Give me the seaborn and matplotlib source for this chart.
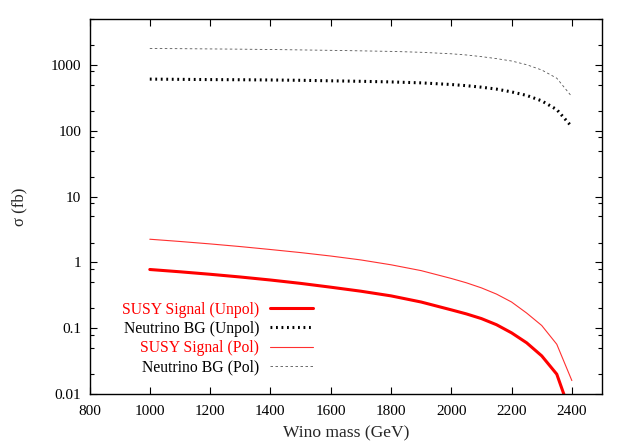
import numpy as np
import pandas as pd
import matplotlib
matplotlib.use("Agg")
import matplotlib.pyplot as plt
import seaborn as sns
from matplotlib.ticker import LogLocator, NullFormatter

sns.set_theme(style="white")
plt.rcParams['font.family'] = ['Liberation Serif', 'DejaVu Serif']

# ---- data ----
mass = [1000, 1100, 1200, 1300, 1400, 1500, 1600, 1700, 1800, 1900, 2000,
        2050, 2100, 2150, 2200, 2250, 2300, 2350, 2400]
susy_unpol = [0.78, 0.72, 0.66, 0.60, 0.54, 0.48, 0.42, 0.365, 0.31, 0.25, 0.19,
              0.165, 0.14, 0.113, 0.085, 0.060, 0.038, 0.020, 0.0045]
nu_unpol = [610, 605, 600, 597, 592, 585, 575, 565, 553, 535, 505,
            485, 460, 430, 390, 345, 285, 210, 115]
susy_pol = [2.25, 2.08, 1.91, 1.74, 1.57, 1.41, 1.25, 1.09, 0.92, 0.75, 0.57,
            0.49, 0.41, 0.33, 0.25, 0.17, 0.11, 0.057, 0.016]
nu_pol = [1780, 1770, 1755, 1740, 1720, 1695, 1670, 1640, 1610, 1560, 1480,
          1420, 1340, 1250, 1150, 1010, 840, 630, 330]

labels = ["SUSY Signal (Unpol)", "Neutrino BG (Unpol)",
          "SUSY Signal (Pol)", "Neutrino BG (Pol)"]
series = [susy_unpol, nu_unpol, susy_pol, nu_pol]
colors = ["#ff0000", "#000000", "#ff3030", "#555555"]
widths = [2.2, 2.2, 0.8, 0.6]
dashes = [None, (0.6, 1.2), None, (3, 3)]

xticks = [800, 1000, 1200, 1400, 1600, 1800, 2000, 2200, 2400]
yticks = [0.01, 0.1, 1, 10, 100, 1000]
yticklabels = ["0.01", "0.1", "1", "10", "100", "1000"]

fig = plt.figure(figsize=(6.29, 4.41), dpi=100)
ax = fig.add_axes([89.5 / 629, 1 - 394 / 441, (602 - 89.5) / 629, (394 - 19) / 441])

for lab, ys, c, w, d in zip(labels, series, colors, widths, dashes):
    df = pd.DataFrame({"mass": mass, "sigma": ys})
    sns.lineplot(data=df, x="mass", y="sigma", ax=ax, color=c, linewidth=w, label=lab)
    ln = ax.lines[-1]
    if d is not None:
        ln.set_dashes(d)

ax.set_yscale("log")
ax.set_xlim(800, 2500)
ax.set_ylim(0.01, 5000)
ax.set_xticks(xticks)
ax.set_xticklabels([str(t) for t in xticks])
ax.set_yticks(yticks)
ax.set_yticklabels(yticklabels)
ax.yaxis.set_minor_locator(LogLocator(base=10, subs=(2, 5, 8)))
ax.yaxis.set_minor_formatter(NullFormatter())

for s in ax.spines.values():
    s.set_color("black")
    s.set_linewidth(1.0)
ax.tick_params(which="both", direction="in", top=True, right=True,
               left=True, bottom=True, colors="black", labelsize=11)
ax.tick_params(which="major", length=5, width=0.8)
ax.tick_params(which="minor", length=3, width=0.8)
ax.tick_params(axis="x", pad=8)
ax.tick_params(axis="y", pad=6)

ax.set_xlabel("Wino mass (GeV)", fontsize=12.6, labelpad=5)
ax.set_ylabel("σ (fb)", fontsize=12, labelpad=17)

leg = ax.legend(loc="upper right", bbox_to_anchor=(0.437, 0.246),
                frameon=False, markerfirst=False, fontsize=11.3,
                borderpad=0, borderaxespad=0, handlelength=2.75,
                handletextpad=0.7, labelspacing=0.2)
for t, c in zip(leg.get_texts(), ["#ff0000", "black", "#ff0000", "black"]):
    t.set_color(c)
    t.set_ha("right")

fig.savefig("out.png", dpi=100)
